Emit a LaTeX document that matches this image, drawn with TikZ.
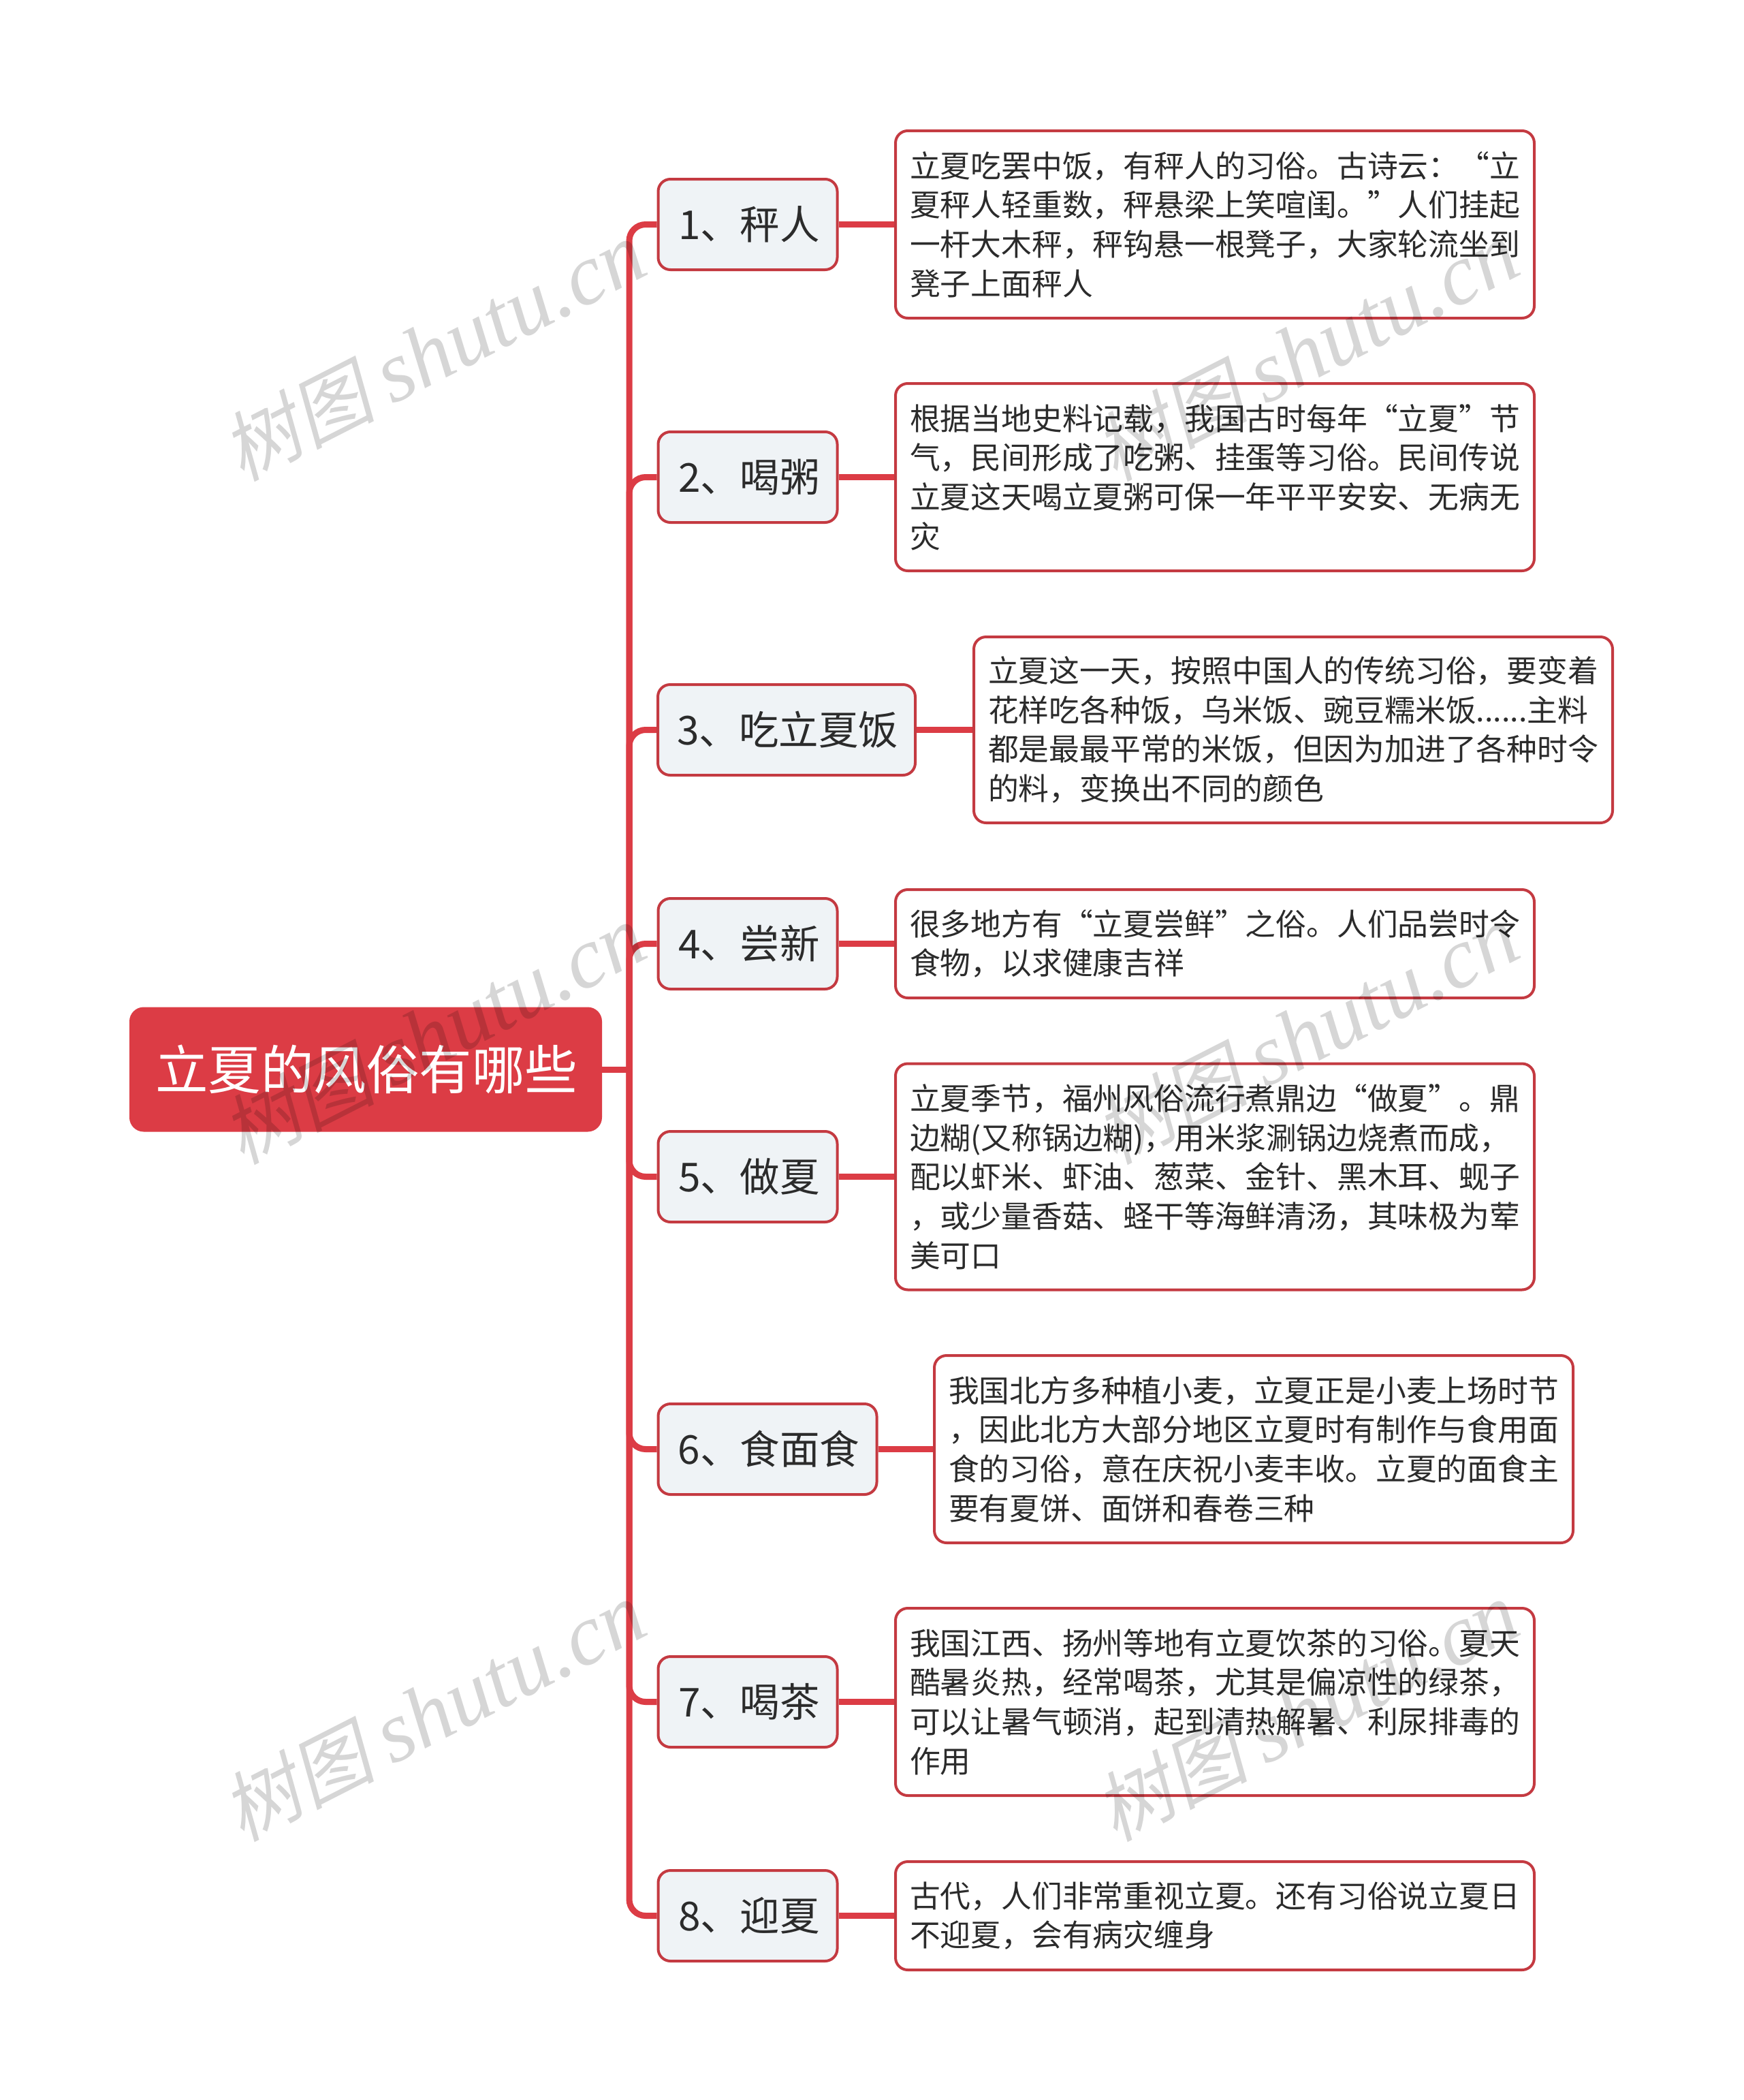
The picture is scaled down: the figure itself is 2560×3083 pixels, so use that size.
\documentclass[tikz,border=0pt]{standalone}
\usepackage{fontspec}
\setmainfont{Noto Sans CJK SC}
\newfontfamily\wmcjk[FakeSlant=0.2]{Noto Sans CJK SC}
\newfontfamily\wmlat{Liberation Serif}
\definecolor{mainred}{HTML}{DC3C45}
\definecolor{edgered}{HTML}{C43A41}
\definecolor{branchfill}{HTML}{EFF3F6}
\definecolor{ink}{HTML}{2B2B2B}
\tikzset{
  rootbox/.style={draw=mainred,fill=mainred,line width=2pt,rounded corners=20pt,minimum width=692pt,minimum height=181pt,inner sep=0pt,text=white,font=\fontsize{77.5}{90}\selectfont},
  branchbox/.style={draw=edgered,fill=branchfill,line width=4pt,rounded corners=18pt,minimum height=133pt,inner sep=0pt,text=ink,font=\fontsize{58.5}{70}\selectfont},
  leafbox/.style={draw=edgered,fill=white,line width=4pt,rounded corners=18pt,inner xsep=21pt,inner ysep=0pt,text width=896pt,align=left,text=ink,font=\fontsize{44.8}{57.7}\selectfont},
  conn/.style={draw=mainred,line width=9pt},
  wmark/.style={rotate=27,text=black,opacity=.16,text opacity=.16,inner sep=0pt}
}
\newcommand{\wmtext}{{\wmcjk\fontsize{112}{112}\selectfont 树图}\hspace{24pt}{\wmlat\itshape\fontsize{127}{127}\selectfont shutu.cn}}
\begin{document}
\begin{tikzpicture}[x=1pt,y=-1pt]
\useasboundingbox (0,0) rectangle (2560,3083);
\fill[white] (0,0) rectangle (2560,3083);
\coordinate (hub) at (924,1570);
\node[rootbox] (root) at (537,1570) {\raisebox{1pt}{\hspace*{2pt}立夏的风俗有哪些}};
\node[branchbox,minimum width=263pt] (b1) at (1098,329.5) {\raisebox{2pt}{\hspace*{4pt}1、秤人}};
\node[branchbox,minimum width=263pt] (b2) at (1098,700.5) {\raisebox{2pt}{\hspace*{4pt}2、喝粥}};
\node[branchbox,minimum width=378pt] (b3) at (1155,1071.5) {\raisebox{2pt}{\hspace*{4pt}3、吃立夏饭}};
\node[branchbox,minimum width=263pt] (b4) at (1098,1385.5) {\raisebox{2pt}{\hspace*{4pt}4、尝新}};
\node[branchbox,minimum width=263pt] (b5) at (1098,1727.5) {\raisebox{2pt}{\hspace*{4pt}5、做夏}};
\node[branchbox,minimum width=321pt] (b6) at (1127,2127.5) {\raisebox{2pt}{\hspace*{4pt}6、食面食}};
\node[branchbox,minimum width=263pt] (b7) at (1098,2498.5) {\raisebox{2pt}{\hspace*{4pt}7、喝茶}};
\node[branchbox,minimum width=263pt] (b8) at (1098,2812.5) {\raisebox{2pt}{\hspace*{4pt}8、迎夏}};
\node[leafbox,minimum height=275pt] (l1) at (1784,329.5) {立夏吃罢中饭，有秤人的习俗。古诗云：“立\\夏秤人轻重数，秤悬梁上笑喧闺。”人们挂起\\一杆大木秤，秤钩悬一根凳子，大家轮流坐到\\凳子上面秤人};
\node[leafbox,minimum height=275pt] (l2) at (1784,700.5) {根据当地史料记载，我国古时每年“立夏”节\\气，民间形成了吃粥、挂蛋等习俗。民间传说\\立夏这天喝立夏粥可保一年平平安安、无病无\\灾};
\node[leafbox,minimum height=273pt] (l3) at (1899,1071.5) {立夏这一天，按照中国人的传统习俗，要变着\\花样吃各种饭，乌米饭、豌豆糯米饭......主料\\都是最最平常的米饭，但因为加进了各种时令\\的料，变换出不同的颜色};
\node[leafbox,minimum height=159pt] (l4) at (1784,1385.5) {很多地方有“立夏尝鲜”之俗。人们品尝时令\\食物，以求健康吉祥};
\node[leafbox,minimum height=332pt] (l5) at (1784,1727.5) {立夏季节，福州风俗流行煮鼎边“做夏”。鼎\\边糊(又称锅边糊)，用米浆涮锅边烧煮而成，\\配以虾米、虾油、葱菜、金针、黑木耳、蚬子\\，或少量香菇、蛏干等海鲜清汤，其味极为荤\\美可口};
\node[leafbox,minimum height=275pt] (l6) at (1841,2127.5) {我国北方多种植小麦，立夏正是小麦上场时节\\，因此北方大部分地区立夏时有制作与食用面\\食的习俗，意在庆祝小麦丰收。立夏的面食主\\要有夏饼、面饼和春卷三种};
\node[leafbox,minimum height=275pt] (l7) at (1784,2498.5) {我国江西、扬州等地有立夏饮茶的习俗。夏天\\酷暑炎热，经常喝茶，尤其是偏凉性的绿茶，\\可以让暑气顿消，起到清热解暑、利尿排毒的\\作用};
\node[leafbox,minimum height=159pt] (l8) at (1784,2812.5) {古代，人们非常重视立夏。还有习俗说立夏日\\不迎夏，会有病灾缠身};
\draw[conn] (root.east) -- (hub);
\foreach \i in {1,...,8}{
  \draw[conn,rounded corners=24pt] (hub) |- (b\i.west);
  \draw[conn] (b\i.east) -- (l\i.west);
}
\node[wmark] (w1) at (637,516) {\wmtext};
\node[wmark] (w2) at (637,1519) {\wmtext};
\node[wmark] (w3) at (637,2513) {\wmtext};
\node[wmark] (w4) at (1919,516) {\wmtext};
\node[wmark] (w5) at (1919,1519) {\wmtext};
\node[wmark] (w6) at (1919,2513) {\wmtext};
\end{tikzpicture}
\end{document}
